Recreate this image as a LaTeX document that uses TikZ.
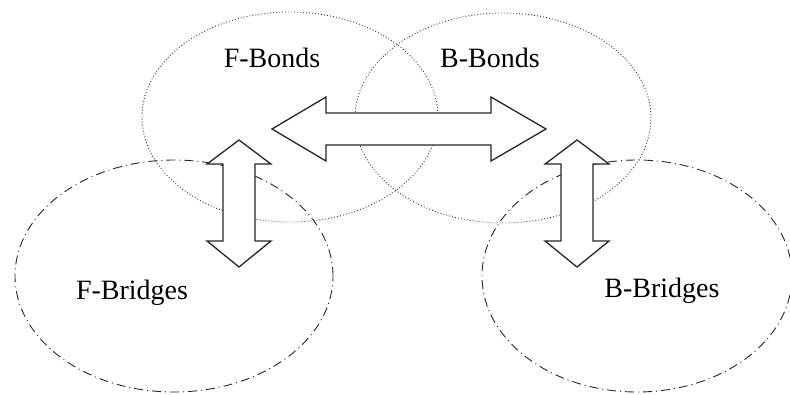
\documentclass[tikz,border=0pt]{standalone}
\usepackage{fontspec}
\setmainfont{Liberation Serif}
\usepackage{tikz}
\usetikzlibrary{shapes.geometric}

\begin{document}
\begin{tikzpicture}[x=1pt, y=-1pt,
    bondset/.style={draw=black!80, ellipse, inner sep=0pt, line width=0.9pt,
        dash pattern=on 0.9pt off 2.1pt},
    bridgeset/.style={draw=black!85, ellipse, inner sep=0pt, line width=0.9pt,
        dash pattern=on 9pt off 4pt on 1pt off 4pt},
    setlabel/.style={font=\fontsize{28}{32}\selectfont},
    blockarrow/.style={draw=black!85, fill=white, line width=1.3pt, line join=miter}]
    \useasboundingbox (0,0) rectangle (790,394);

    % the four sets
    \node[bondset, minimum width=296pt, minimum height=210pt] (fbonds) at (290,117) {};
    \node[bondset, minimum width=296pt, minimum height=210pt] (bbonds) at (503,118) {};
    \node[bridgeset, minimum width=318pt, minimum height=232pt] (fbridges) at (174,276) {};
    \node[bridgeset, minimum width=310pt, minimum height=232pt] (bbridges) at (637,276) {};

    \node[setlabel] (fbondslabel) at (272,58) {F-Bonds};
    \node[setlabel] (bbondslabel) at (490,58) {B-Bonds};
    \node[setlabel] (fbridgeslabel) at (132,293) {F-Bridges};
    \node[setlabel] (bbridgeslabel) at (662,291) {B-Bridges};

    % block arrows
    \draw[blockarrow] (272,129) -- (326,97) -- (326,113) -- (491,113) -- (491,97)
        -- (546,129) -- (491,161) -- (491,145) -- (326,145) -- (326,161) -- cycle;
    \foreach \cx in {239, 577} {
        \draw[blockarrow] (\cx,140) -- (\cx+32,164) -- (\cx+16,164) -- (\cx+16,241)
            -- (\cx+32,241) -- (\cx,267) -- (\cx-32,241) -- (\cx-16,241)
            -- (\cx-16,164) -- (\cx-32,164) -- cycle;
    }
\end{tikzpicture}
\end{document}
